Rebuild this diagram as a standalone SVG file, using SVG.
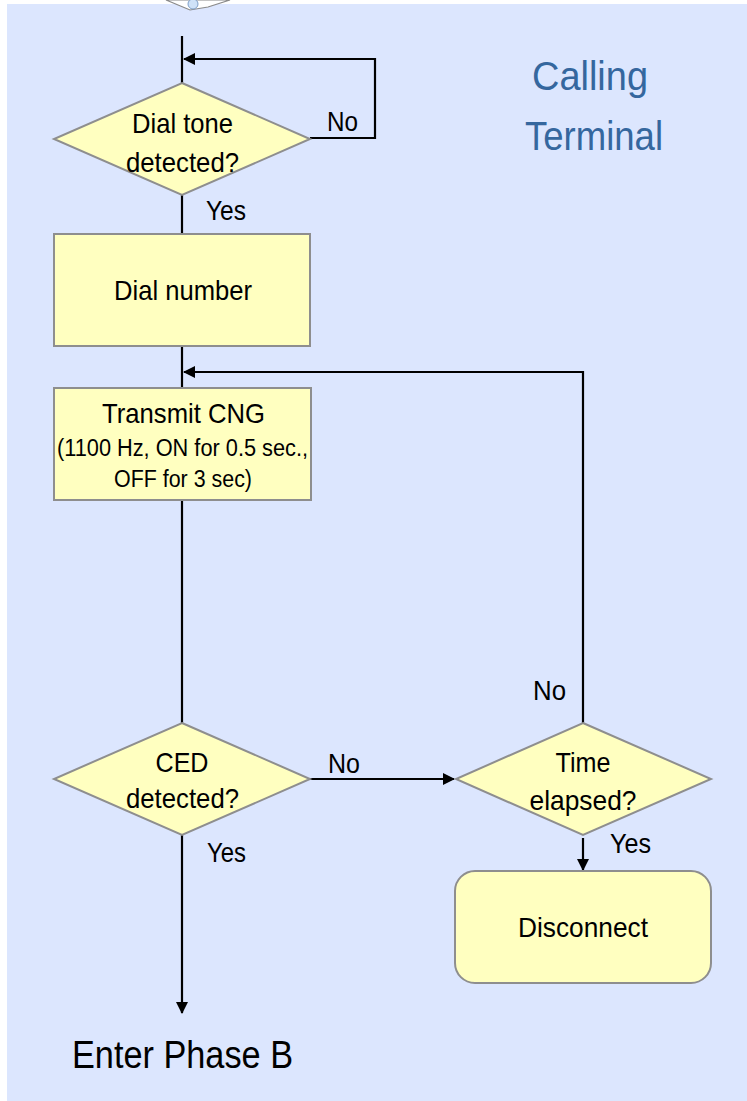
<svg xmlns="http://www.w3.org/2000/svg" width="747" height="1101" viewBox="0 0 747 1101">
  <defs>
    <marker id="arrow" viewBox="0 0 12 12" refX="11" refY="6" markerWidth="12" markerHeight="12" markerUnits="userSpaceOnUse" orient="auto">
      <path d="M0,0 L12,6 L0,12 Z" fill="#000"/>
    </marker>
    <style>
      .shape { fill: #ffffc0; stroke: #8e8e8e; stroke-width: 2; }
      .line { fill: none; stroke: #000; stroke-width: 2.2; }
      .lbl { font-family: "Liberation Sans", Arial, sans-serif; font-size: 28px; fill: #000; text-anchor: middle; }
      .small { font-family: "Liberation Sans", Arial, sans-serif; font-size: 23px; fill: #000; text-anchor: middle; }
      .title { font-family: "Liberation Sans", Arial, sans-serif; font-size: 40px; fill: #35679e; text-anchor: middle; }
      .big { font-family: "Liberation Sans", Arial, sans-serif; font-size: 38px; fill: #000; }
    </style>
  </defs>

  <!-- background panel -->
  <rect x="0" y="0" width="747" height="1101" fill="#ffffff"/>
  <rect x="7" y="4" width="740" height="1097" fill="#dce6fe"/>

  <!-- clipped fax icon edge at top -->
  <g id="icon">
    <polygon points="166,0 190,10 208,7 230,0" fill="#ffffff" stroke="#8a8a8a" stroke-width="1.2"/>
    <ellipse cx="193" cy="4" rx="5" ry="5" fill="#cfe2f8" stroke="#7f9fc8" stroke-width="1"/>
  </g>

  <!-- connectors -->
  <g id="connectors">
    <line class="line" x1="182" y1="36" x2="182" y2="83"/>
    <polyline class="line" points="310,138 375,138 375,59 184,59" marker-end="url(#arrow)"/>
    <line class="line" x1="182" y1="195" x2="182" y2="234"/>
    <line class="line" x1="182" y1="346" x2="182" y2="388"/>
    <polyline class="line" points="583,723 583,372 184,372" marker-end="url(#arrow)"/>
    <line class="line" x1="182" y1="500" x2="182" y2="723"/>
    <line class="line" x1="310" y1="779" x2="454" y2="779" marker-end="url(#arrow)"/>
    <line class="line" x1="583" y1="838" x2="583" y2="870" marker-end="url(#arrow)"/>
    <line class="line" x1="182" y1="835" x2="182" y2="1013" marker-end="url(#arrow)"/>
  </g>

  <!-- nodes -->
  <g id="dialtone">
    <polygon class="shape" points="182,83 310,139 182,195 54,139"/>
    <text class="lbl" x="182.5" y="133" textLength="101" lengthAdjust="spacingAndGlyphs">Dial tone</text>
    <text class="lbl" x="182.5" y="172" textLength="113" lengthAdjust="spacingAndGlyphs">detected?</text>
  </g>

  <g id="dialnumber">
    <rect class="shape" x="54" y="234" width="256" height="112"/>
    <text class="lbl" x="183" y="300" textLength="138" lengthAdjust="spacingAndGlyphs">Dial number</text>
  </g>

  <g id="transmit">
    <rect class="shape" x="54" y="388" width="257" height="112"/>
    <text class="lbl" x="183.5" y="423" textLength="163" lengthAdjust="spacingAndGlyphs">Transmit CNG</text>
    <text class="small" x="182.5" y="456" textLength="251" lengthAdjust="spacingAndGlyphs">(1100 Hz, ON for 0.5 sec.,</text>
    <text class="small" x="183" y="487" textLength="138" lengthAdjust="spacingAndGlyphs">OFF for 3 sec)</text>
  </g>

  <g id="ced">
    <polygon class="shape" points="182,723 310,779 182,835 54,779"/>
    <text class="lbl" x="182" y="772" textLength="53" lengthAdjust="spacingAndGlyphs">CED</text>
    <text class="lbl" x="182.5" y="808" textLength="113" lengthAdjust="spacingAndGlyphs">detected?</text>
  </g>

  <g id="timeelapsed">
    <polygon class="shape" points="583,723 711,779 583,835 456,779"/>
    <text class="lbl" x="583" y="772" textLength="55" lengthAdjust="spacingAndGlyphs">Time</text>
    <text class="lbl" x="583" y="810" textLength="107" lengthAdjust="spacingAndGlyphs">elapsed?</text>
  </g>

  <g id="disconnect">
    <rect class="shape" x="455" y="871" width="256" height="112" rx="20" ry="20"/>
    <text class="lbl" x="583" y="937" textLength="130" lengthAdjust="spacingAndGlyphs">Disconnect</text>
  </g>

  <!-- branch labels -->
  <g id="labels">
    <text class="lbl" x="342.5" y="131" textLength="31" lengthAdjust="spacingAndGlyphs">No</text>
    <text class="lbl" x="226" y="220" textLength="40" lengthAdjust="spacingAndGlyphs">Yes</text>
    <text class="lbl" x="344" y="773" textLength="32" lengthAdjust="spacingAndGlyphs">No</text>
    <text class="lbl" x="226.5" y="862" textLength="39" lengthAdjust="spacingAndGlyphs">Yes</text>
    <text class="lbl" x="549.5" y="700" textLength="33" lengthAdjust="spacingAndGlyphs">No</text>
    <text class="lbl" x="630.5" y="853" textLength="41" lengthAdjust="spacingAndGlyphs">Yes</text>
  </g>

  <g id="endpoint">
    <text class="big" x="72" y="1068" textLength="221" lengthAdjust="spacingAndGlyphs">Enter Phase B</text>
  </g>

  <g id="title">
    <text class="title" x="590" y="90" textLength="116" lengthAdjust="spacingAndGlyphs">Calling</text>
    <text class="title" x="594" y="150" textLength="138" lengthAdjust="spacingAndGlyphs">Terminal</text>
  </g>
</svg>
